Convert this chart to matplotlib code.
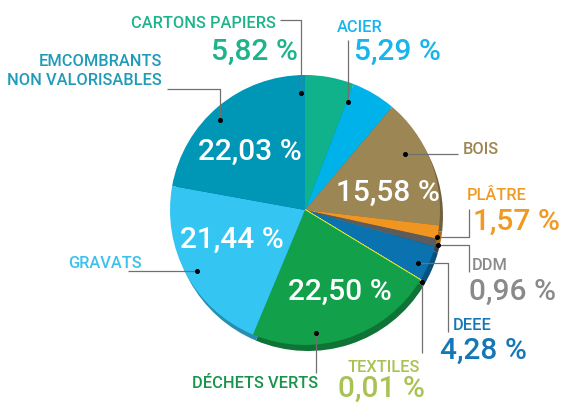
import matplotlib.pyplot as plt
import matplotlib.colors as mcolors

# données (sens horaire depuis le haut)
categories = ['CARTONS PAPIERS', 'ACIER', 'BOIS', 'PLÂTRE', 'DDM', 'DEEE',
              'TEXTILES', 'DÉCHETS VERTS', 'GRAVATS', 'EMCOMBRANTS\nNON VALORISABLES']
valeurs = [5.82, 5.29, 15.58, 1.57, 0.96, 4.28, 0.01, 22.50, 21.44, 22.03]
libelles = ['5,82 %', '5,29 %', '15,58 %', '1,57 %', '0,96 %', '4,28 %',
            '0,01 %', '22,50 %', '21,44 %', '22,03 %']
couleurs = ['#10b28b', '#00b2ea', '#9c8654', '#ef9520', '#5c5c5c', '#0a72ae',
            '#d8e030', '#13a04a', '#35c5f2', '#0096b6']
couleurs_txt = ['#1db48c', '#19b4ea', '#9c8654', '#f09a24', '#8a8a8a', '#1677b7',
                '#a9c254', '#18944a', '#3cc0ee', '#1f9bb9']

plt.rcParams['font.family'] = ['Roboto', 'DejaVu Sans']
plt.rcParams['font.weight'] = 'medium'

fig = plt.figure(figsize=(5.62, 4.04), dpi=100)
ax = fig.add_axes([0, 0, 1, 1])

cx, cy, r = 305, 210, 135
grand, petit = 21.5, 11.8

# ombre (épaisseur du disque)
ombre = [tuple(c * 0.72 for c in mcolors.to_rgb(col)) for col in couleurs]
ax.pie(valeurs, colors=ombre, startangle=-90, counterclock=True,
       center=(cx + 3, cy + 6), radius=r, wedgeprops=dict(linewidth=0))
parts, _ = ax.pie(valeurs, colors=couleurs, startangle=-90, counterclock=True,
                  center=(cx, cy), radius=r, wedgeprops=dict(linewidth=0))
parts[6].set_edgecolor('#e0e830')
parts[6].set_linewidth(1.2)

ax.set_xlim(0, 562)
ax.set_ylim(404, 0)
ax.set_aspect('equal')
ax.axis('off')

# valeurs dans les parts
interieur = {2: (388, 193), 7: (340, 292), 8: (232, 240), 9: (250, 152)}
for i, (x, y) in interieur.items():
    ax.text(x, y, libelles[i], color='white', fontsize=grand, ha='center', va='center')

gris = '#707070'
def trait(xs, ys):
    ax.plot(xs, ys, color=gris, lw=0.9, solid_capstyle='butt')
    ax.plot(xs[-1], ys[-1], 'o', color='black', ms=2.6)

def txt(x, y, s, col, taille, ha):
    ax.text(x, y, s, color=col, fontsize=taille, ha=ha, va='center',
            multialignment=ha, linespacing=1.35)

# CARTONS PAPIERS
trait([280, 301, 301], [20, 20, 93])
txt(276, 24, categories[0], couleurs_txt[0], petit, 'right')
txt(298, 52, libelles[0], couleurs_txt[0], grand, 'right')
# ACIER
trait([348, 348], [40, 102])
txt(337, 27, categories[1], couleurs_txt[1], petit, 'left')
txt(354, 52, libelles[1], couleurs_txt[1], grand, 'left')
# EMCOMBRANTS
trait([167, 220, 220], [89, 89, 120])
txt(162, 71, categories[9], couleurs_txt[9], petit, 'right')
# BOIS
trait([458, 405], [154, 154])
txt(463, 150, categories[2], couleurs_txt[2], petit, 'left')
# PLÂTRE
trait([469, 469, 437], [209, 237, 237])
txt(467, 196, categories[3], couleurs_txt[3], petit, 'left')
txt(473, 222, libelles[3], couleurs_txt[3], grand, 'left')
# DDM
trait([469, 469, 438], [272, 245, 245])
txt(472, 266, categories[4], couleurs_txt[4], petit, 'left')
txt(469, 292, libelles[4], couleurs_txt[4], grand, 'left')
# DEEE
trait([448, 448, 418], [332, 263, 263])
txt(453, 325, categories[5], couleurs_txt[5], petit, 'left')
txt(440, 351, libelles[5], couleurs_txt[5], grand, 'left')
# TEXTILES
trait([422, 422], [353, 282])
txt(420, 367, categories[6], couleurs_txt[6], petit, 'right')
txt(338, 389, libelles[6], couleurs_txt[6], grand, 'left')
# DÉCHETS VERTS
trait([316, 316], [373, 333])
txt(318, 383, categories[7], couleurs_txt[7], petit, 'right')
# GRAVATS
trait([128, 197], [271, 271])
txt(68, 263, categories[8], couleurs_txt[8], petit, 'left')

fig.savefig('out.png', dpi=100)
